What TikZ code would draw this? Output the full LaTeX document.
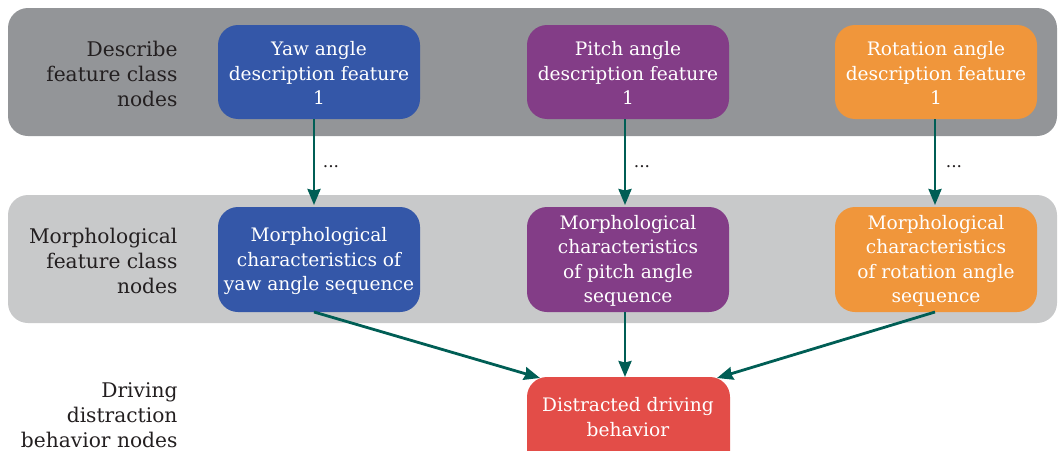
\documentclass[tikz,border=0pt]{standalone}
\usepackage{fontspec}
\setmainfont{DejaVu Serif}
\usetikzlibrary{arrows.meta}
\definecolor{bandDark}{HTML}{939598}
\definecolor{bandLight}{HTML}{C8C9CA}
\definecolor{yawBlue}{HTML}{3457A8}
\definecolor{pitchPurple}{HTML}{833D87}
\definecolor{rollOrange}{HTML}{F0963B}
\definecolor{outRed}{HTML}{E34D48}
\definecolor{linkTeal}{HTML}{005E55}
\definecolor{labelInk}{HTML}{231F20}
\tikzset{
  band/.style={rounded corners=20pt},
  featbox/.style={rounded corners=20pt, text=white, align=center,
    font=\fontsize{18.6}{24.3}\selectfont},
  rowlabel/.style={anchor=east, align=right, text=labelInk,
    font=\fontsize{20.2}{25}\selectfont},
  link/.style={draw=linkTeal, line width=2.8pt,
    -{Stealth[length=16pt,width=13pt,inset=1.5pt]}},
  dots/.style={text=labelInk, font=\fontsize{17}{20}\selectfont}
}
\begin{document}
\begin{tikzpicture}[x=1pt,y=-1pt]
  \useasboundingbox (0,0) rectangle (1058,450);
  \clip (0,0) rectangle (1058,450);
  % background bands for the three levels
  \fill[bandDark, band] (8,8) rectangle (1057,136);
  \fill[bandLight, band] (8,195) rectangle (1057,323);

  % row labels
  \node[rowlabel] (lab1) at (181,74) {Describe\\feature class\\nodes};
  \node[rowlabel] (lab2) at (181,261) {Morphological\\feature class\\nodes};
  \node[rowlabel] (lab3) at (181,415) {Driving\\distraction\\behavior nodes};

  % description feature nodes
  \fill[yawBlue, featbox] (218,25) rectangle (420,119);
  \node[featbox] (d1) at (319,73) {Yaw angle\\description feature\\1};
  \fill[pitchPurple, featbox] (527,25) rectangle (729,119);
  \node[featbox] (d2) at (628,73) {Pitch angle\\description feature\\1};
  \fill[rollOrange, featbox] (835,25) rectangle (1037,119);
  \node[featbox] (d3) at (936,73) {Rotation angle\\description feature\\1};

  % morphological feature nodes
  \fill[yawBlue, featbox] (218,207) rectangle (420,312);
  \node[featbox] (m1) at (319,261) {Morphological\\characteristics of\\yaw angle sequence};
  \fill[pitchPurple, featbox] (527,207) rectangle (729,312);
  \node[featbox] (m2) at (628,261) {Morphological\\characteristics\\of pitch angle\\sequence};
  \fill[rollOrange, featbox] (835,207) rectangle (1037,312);
  \node[featbox] (m3) at (936,261) {Morphological\\characteristics\\of rotation angle\\sequence};

  % output node
  \fill[outRed, featbox] (527,377) rectangle (730,472);
  \node[featbox] (out) at (628,417) {Distracted driving\\behavior};

  % anchor points on the box edges
  \coordinate (d1b) at (314,119);
  \coordinate (d2b) at (625,119);
  \coordinate (d3b) at (935,119);
  \coordinate (m1t) at (314,205);
  \coordinate (m2t) at (625,205);
  \coordinate (m3t) at (935,205);
  \coordinate (m1b) at (314,312);
  \coordinate (m2b) at (625,312);
  \coordinate (m3b) at (935,312);
  \coordinate (outL) at (540,378);
  \coordinate (outM) at (625,377);
  \coordinate (outR) at (717,378);

  % connectors
  \draw[link] (d1b) -- (m1t);
  \draw[link] (d2b) -- (m2t);
  \draw[link] (d3b) -- (m3t);
  \draw[link] (m1b) -- (outL);
  \draw[link] (m2b) -- (outM);
  \draw[link] (m3b) -- (outR);

  % ellipsis marks beside the vertical links
  \node[dots] (e1) at (331,167) {...};
  \node[dots] (e2) at (642,167) {...};
  \node[dots] (e3) at (954,167) {...};
\end{tikzpicture}
\end{document}
